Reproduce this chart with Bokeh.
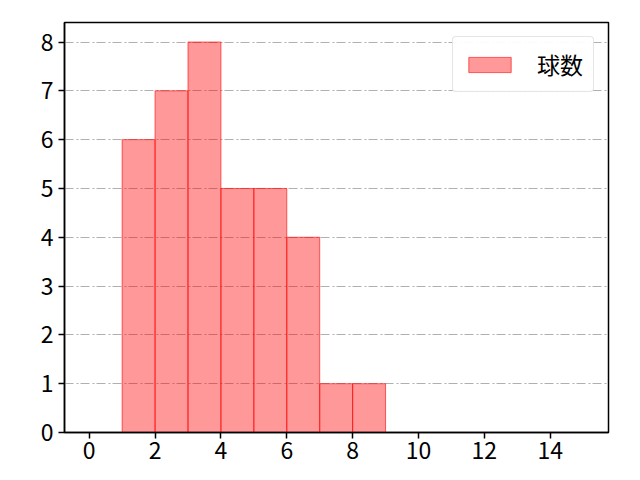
from bokeh.plotting import figure
from bokeh.models import Range1d, FixedTicker, ColumnDataSource, Legend, LegendItem
from bokeh.embed import file_html
from bokeh.resources import INLINE

bin_left = [1, 2, 3, 4, 5, 6, 7, 8]
bin_right = [2, 3, 4, 5, 6, 7, 8, 9]
counts = [6, 7, 8, 5, 5, 4, 1, 1]
x_ticks = [0, 2, 4, 6, 8, 10, 12, 14]
y_ticks = [0, 1, 2, 3, 4, 5, 6, 7, 8]
series_label = "球数"

FONT = "Noto Sans CJK JP"

p = figure(width=624, height=464, output_backend="svg", toolbar_location=None,
           x_range=Range1d(-0.75, 15.77), y_range=Range1d(0, 8.4),
           min_border_left=64, min_border_right=16, min_border_top=22, min_border_bottom=32)

src = ColumnDataSource(dict(left=bin_left, right=bin_right, top=counts, bottom=[0] * len(counts)))
r = p.quad(left="left", right="right", top="top", bottom="bottom", source=src,
           fill_color="red", fill_alpha=0.4, line_color="red", line_alpha=0.6, line_width=1)

p.xgrid.visible = False
p.ygrid.grid_line_color = "#b0b0b0"
p.ygrid.grid_line_dash = "9 3 2 2"
p.ygrid.grid_line_width = 1

p.xaxis.ticker = FixedTicker(ticks=x_ticks)
p.yaxis.ticker = FixedTicker(ticks=y_ticks)
for ax in (p.xaxis[0], p.yaxis[0]):
    ax.axis_line_color = "black"
    ax.axis_line_width = 1.5
    ax.major_tick_line_color = "black"
    ax.major_tick_line_width = 1.5
    ax.major_tick_out = 6
    ax.major_tick_in = 0
    ax.minor_tick_line_color = None
    ax.major_label_text_font = FONT
    ax.major_label_text_font_size = "23px"
    ax.major_label_text_color = "black"
p.xaxis.major_label_standoff = 3
p.yaxis.major_label_standoff = 5

p.outline_line_color = "black"
p.outline_line_width = 1.5
p.outline_line_alpha = 1

legend = Legend(items=[LegendItem(label=series_label, renderers=[r])], location="top_right")
legend.label_text_font = FONT
legend.label_text_font_size = "23px"
legend.label_text_color = "black"
legend.border_line_color = "#cccccc"
legend.border_line_width = 1
legend.border_radius = 4
legend.margin = 14
legend.padding = 10
legend.glyph_width = 53
legend.glyph_height = 19
legend.label_height = 26
legend.label_standoff = 21
legend.spacing = 0
p.add_layout(legend, "center")

open("out.html", "w").write(file_html(p, INLINE))
